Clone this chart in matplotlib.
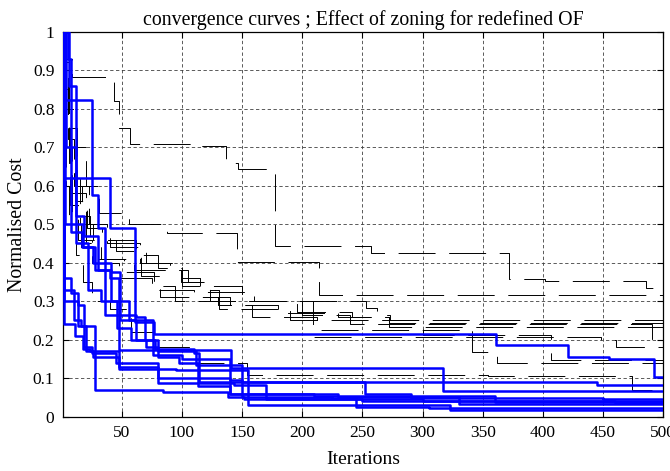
import numpy as np
import matplotlib.pyplot as plt

plt.rcParams['font.family'] = ['Liberation Serif', 'DejaVu Serif']

n_iter = 500

# best normalised cost per run, listed as (iteration where it changes, new value)
# blue solid runs: with zoning
zoned_1 = [(1, 1.0), (2, 0.62), (40, 0.49), (61, 0.245), (77, 0.215), (361, 0.186),
           (421, 0.156), (455, 0.15), (492, 0.104)]
zoned_2 = [(1, 1.0), (2, 0.822), (25, 0.575), (30, 0.49), (36, 0.265), (62, 0.258),
           (69, 0.198), (78, 0.176), (110, 0.165), (114, 0.091), (445, 0.082)]
zoned_3 = [(1, 1.0), (5, 0.93), (8, 0.48), (17, 0.44), (28, 0.38), (40, 0.36),
           (48, 0.173), (141, 0.126), (317, 0.068)]
zoned_4 = [(1, 1.0), (2, 0.33), (10, 0.25), (16, 0.235), (28, 0.069), (84, 0.063),
           (138, 0.05), (152, 0.045), (250, 0.04)]
zoned_5 = [(1, 1.0), (2, 0.24), (11, 0.21), (18, 0.175), (24, 0.17), (26, 0.155),
           (48, 0.125), (95, 0.12), (140, 0.06), (155, 0.03), (323, 0.017)]
zoned_6 = [(1, 1.0), (2, 0.3), (14, 0.29), (19, 0.18), (25, 0.165), (45, 0.14),
           (80, 0.087), (143, 0.083), (170, 0.045), (300, 0.042), (460, 0.036)]
zoned_7 = [(1, 1.0), (2, 0.36), (8, 0.32), (14, 0.235), (20, 0.17), (48, 0.13),
           (80, 0.1), (140, 0.095), (150, 0.052), (225, 0.048), (245, 0.025), (305, 0.022)]
zoned_8 = [(1, 1.0), (3, 0.5), (18, 0.44), (26, 0.40), (41, 0.375), (49, 0.25),
           (62, 0.2), (70, 0.18), (80, 0.155), (98, 0.14), (113, 0.08), (140, 0.06),
           (210, 0.055), (360, 0.039)]
zoned_9 = [(1, 1.0), (4, 0.7), (12, 0.45), (22, 0.33), (33, 0.3), (46, 0.23),
           (58, 0.2), (80, 0.17), (112, 0.135), (150, 0.09), (252, 0.06), (290, 0.048),
           (450, 0.046)]
zoned_10 = [(1, 1.0), (6, 0.86), (12, 0.52), (19, 0.47), (30, 0.38), (41, 0.3),
            (56, 0.25), (76, 0.16), (100, 0.15), (140, 0.12), (155, 0.06), (230, 0.05),
            (330, 0.034)]

# black dashed runs: without zoning
plain_1 = [(1, 1.0), (3, 0.93), (9, 0.882), (44, 0.82), (48, 0.75), (57, 0.708),
           (108, 0.703), (137, 0.658), (147, 0.643), (177, 0.443), (257, 0.424),
           (372, 0.357), (402, 0.352), (486, 0.333)]
plain_2 = [(1, 1.0), (2, 0.92), (6, 0.8), (12, 0.7), (20, 0.6), (31, 0.53), (56, 0.5),
           (88, 0.476), (146, 0.403), (214, 0.316)]
plain_3 = [(1, 1.0), (2, 0.85), (5, 0.72), (10, 0.6), (17, 0.52), (24, 0.47), (40, 0.44),
           (70, 0.4), (90, 0.38), (99, 0.35), (123, 0.3), (253, 0.282), (262, 0.263),
           (273, 0.25)]
plain_4 = [(1, 1.0), (2, 0.78), (8, 0.62), (15, 0.5), (26, 0.46), (45, 0.43), (66, 0.365),
           (82, 0.31), (140, 0.29), (180, 0.27), (230, 0.26), (272, 0.243)]
plain_5 = [(1, 1.0), (3, 0.7), (9, 0.58), (20, 0.45), (33, 0.41), (60, 0.38), (105, 0.35),
           (120, 0.325), (160, 0.3), (196, 0.273), (241, 0.258), (272, 0.234)]
plain_6 = [(1, 1.0), (2, 0.75), (7, 0.55), (14, 0.46), (25, 0.4), (48, 0.36), (75, 0.33),
           (110, 0.31), (130, 0.29), (158, 0.26), (212, 0.225), (341, 0.169), (362, 0.139)]
plain_7 = [(1, 1.0), (2, 0.7), (4, 0.6), (9, 0.5), (16, 0.44), (30, 0.41), (52, 0.375),
           (77, 0.34), (94, 0.3), (209, 0.207), (448, 0.2), (461, 0.182)]
plain_8 = [(1, 1.0), (2, 0.8), (6, 0.66), (11, 0.56), (21, 0.49), (34, 0.46), (62, 0.42),
           (80, 0.385), (100, 0.36), (115, 0.33), (131, 0.28), (190, 0.25), (240, 0.24),
           (300, 0.213), (407, 0.147)]
plain_9 = [(1, 1.0), (2, 0.6), (6, 0.5), (12, 0.42), (18, 0.35), (25, 0.3), (40, 0.28),
           (58, 0.22), (80, 0.18), (112, 0.14), (154, 0.108), (354, 0.105), (474, 0.07)]
plain_10 = [(1, 1.0), (2, 0.88), (5, 0.75), (13, 0.6), (23, 0.5), (38, 0.45), (65, 0.4),
            (100, 0.34), (150, 0.3), (200, 0.265), (240, 0.25), (300, 0.24), (491, 0.195)]

zoned_runs = [zoned_1, zoned_2, zoned_3, zoned_4, zoned_5,
              zoned_6, zoned_7, zoned_8, zoned_9, zoned_10]
plain_runs = [plain_1, plain_2, plain_3, plain_4, plain_5,
              plain_6, plain_7, plain_8, plain_9, plain_10]

x_ticks = [50, 100, 150, 200, 250, 300, 350, 400, 450, 500]
y_ticks = [0, 0.1, 0.2, 0.3, 0.4, 0.5, 0.6, 0.7, 0.8, 0.9, 1]
y_tick_labels = ['0', '0.1', '0.2', '0.3', '0.4', '0.5', '0.6', '0.7', '0.8', '0.9', '1']


def to_steps(run):
    it = [p[0] for p in run] + [n_iter]
    cost = [p[1] for p in run] + [run[-1][1]]
    return it, cost


fig = plt.figure(figsize=(6.7, 4.71), dpi=100)
ax = fig.add_axes([0.0936, 0.1153, 0.8964, 0.8174])

for run in plain_runs:
    it, cost = to_steps(run)
    ax.plot(it, cost, drawstyle='steps-post', color='black', lw=0.7,
            linestyle=(0, (38, 14)), zorder=2)

for run in zoned_runs:
    it, cost = to_steps(run)
    ax.plot(it, cost, drawstyle='steps-post', color='#0000ff', lw=1.8, zorder=3)

ax.set_xlim(1, n_iter)
ax.set_ylim(0, 1)
ax.set_xticks(x_ticks)
ax.set_yticks(y_ticks)
ax.set_yticklabels(y_tick_labels)
ax.grid(True, color='0.25', linestyle=(0, (4, 3)), lw=0.6)
ax.tick_params(direction='in', top=True, right=True, length=4, labelsize=12.5, pad=6)
for s in ax.spines.values():
    s.set_linewidth(0.9)

ax.set_title('convergence curves ; Effect of zoning for redefined OF', fontsize=14.3, pad=5)
ax.set_xlabel('Iterations', fontsize=14, labelpad=7)
ax.set_ylabel('Normalised Cost', fontsize=14.3, labelpad=4)

fig.savefig('out.png', dpi=100)
